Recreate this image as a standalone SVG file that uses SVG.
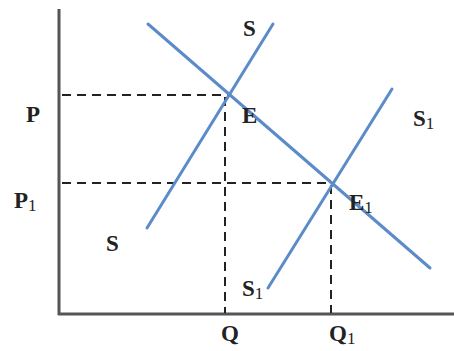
<svg xmlns="http://www.w3.org/2000/svg" width="454" height="351" viewBox="0 0 454 351">
<style>
.ax{stroke:#555;stroke-width:3;fill:none}
.dash{stroke:#222;stroke-width:2;stroke-dasharray:9,6;fill:none}
.cv{stroke:#5b8bc9;stroke-width:3;fill:none;stroke-linecap:round}
text{font-family:"Liberation Serif","Times New Roman",serif;font-size:23px;fill:#222;font-weight:bold}
.sub{font-size:17px;font-weight:normal}
</style>
<rect width="454" height="351" fill="#fff"/>
<g id="axes">
<line class="ax" x1="59" y1="9" x2="59" y2="315"/>
<line class="ax" x1="58" y1="314" x2="454" y2="314"/>
</g>
<g id="guides">
<line class="dash" x1="62" y1="95" x2="228" y2="95"/>
<line class="dash" x1="225" y1="97" x2="225" y2="313"/>
<line class="dash" x1="62" y1="183" x2="332" y2="183"/>
<line class="dash" x1="331" y1="185" x2="331" y2="313"/>
</g>
<g id="connectors">
<line id="D" class="cv" x1="148" y1="24" x2="430" y2="268"/>
<line id="S" class="cv" x1="147" y1="228" x2="273" y2="24"/>
<line id="S1" class="cv" x1="268" y1="288" x2="392" y2="89"/>
</g>
<g id="labels">
<text x="26" y="122">P</text>
<text x="14" y="208">P<tspan class="sub" dy="3">1</tspan></text>
<text x="243" y="36">S</text>
<text x="242" y="123">E</text>
<text x="413" y="126">S<tspan class="sub" dy="3">1</tspan></text>
<text x="349" y="210">E<tspan class="sub" dy="3">1</tspan></text>
<text x="106" y="251">S</text>
<text x="242" y="296">S<tspan class="sub" dy="3">1</tspan></text>
<text x="221" y="341">Q</text>
<text x="329" y="341">Q<tspan class="sub" dy="3">1</tspan></text>
</g>
</svg>
